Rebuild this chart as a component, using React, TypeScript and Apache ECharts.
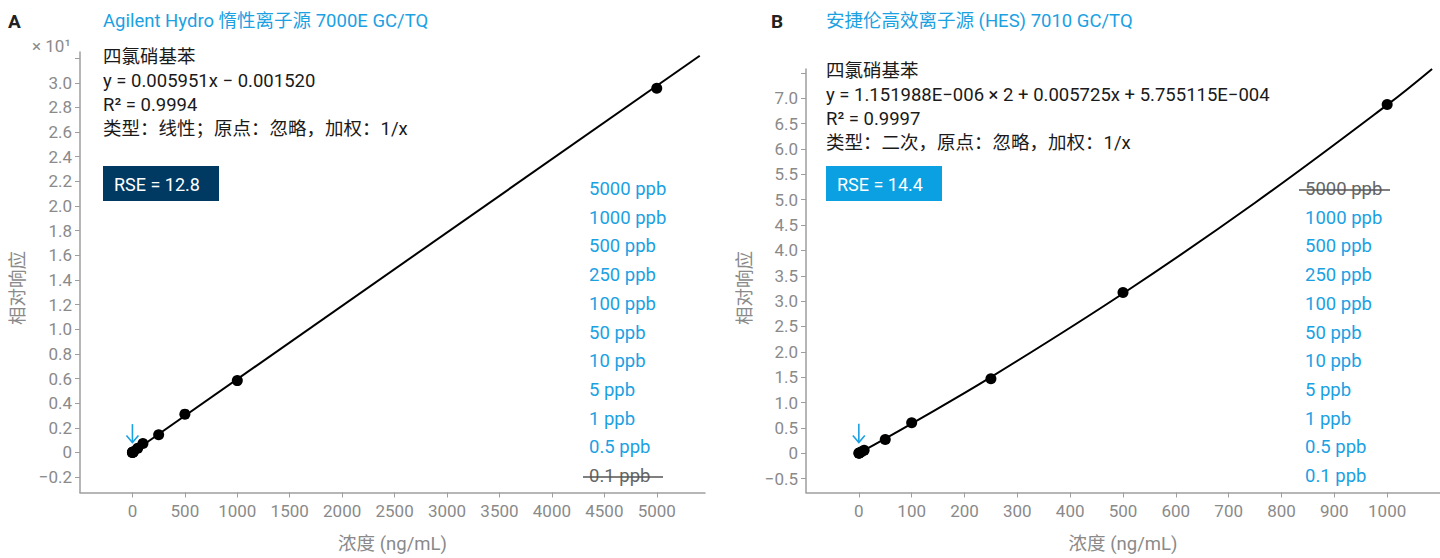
import React, { useEffect, useRef } from "react";
import * as echarts from "echarts";

// ---- Data ----
const concA = [0.1, 0.5, 1, 5, 10, 50, 100, 250, 500, 1000, 5000];
const respA = [0.0, 0.0, 0.001, 0.003, 0.006, 0.035, 0.072, 0.144, 0.311, 0.583, 2.955];
const fitAX = [0, 5410];
const fitAY = [-0.0002, 3.22];

const concB = [0.1, 0.5, 1, 5, 10, 50, 100, 250, 500, 1000];
const respB = [0.0, 0.002, 0.005, 0.03, 0.06, 0.27, 0.6, 1.47, 3.17, 6.88];
const fitBX = [0, 100, 250, 500, 750, 1000, 1085];
const fitBY = [0.0, 0.585, 1.5, 3.15, 4.94, 6.87, 7.58];

const xTicksA = [0, 500, 1000, 1500, 2000, 2500, 3000, 3500, 4000, 4500, 5000];
const yLabelsA = [-0.2, 0, 0.2, 0.4, 0.6, 0.8, 1.0, 1.2, 1.4, 1.6, 1.8, 2.0, 2.2, 2.4, 2.6, 2.8, 3.0];
const yTicksA = [-0.2, 0, 0.2, 0.4, 0.6, 0.8, 1.0, 1.2, 1.4, 1.6, 1.8, 2.0, 2.2, 2.4, 2.6, 2.8, 3.0, 3.2];
const xTicksB = [0, 100, 200, 300, 400, 500, 600, 700, 800, 900, 1000];
const yLabelsB = [-0.5, 0, 0.5, 1.0, 1.5, 2.0, 2.5, 3.0, 3.5, 4.0, 4.5, 5.0, 5.5, 6.0, 6.5, 7.0];
const yTicksB = [-0.5, 0, 0.5, 1.0, 1.5, 2.0, 2.5, 3.0, 3.5, 4.0, 4.5, 5.0, 5.5, 6.0, 6.5, 7.0, 7.5];

const levels = ["5000 ppb", "1000 ppb", "500 ppb", "250 ppb", "100 ppb", "50 ppb", "10 ppb", "5 ppb", "1 ppb", "0.5 ppb", "0.1 ppb"];
const excludedA = "0.1 ppb";
const excludedB = "5000 ppb";

const titleA = "Agilent Hydro 惰性离子源 7000E GC/TQ";
const titleB = "安捷伦高效离子源 (HES) 7010 GC/TQ";
const infoA = ["四氯硝基苯", "y = 0.005951x − 0.001520", "R² = 0.9994", "类型：线性；原点：忽略，加权：1/x"];
const infoB = ["四氯硝基苯", "y = 1.151988E−006 × 2 + 0.005725x + 5.755115E−004", "R² = 0.9997", "类型：二次，原点：忽略，加权：1/x"];
const rseA = "RSE = 12.8";
const rseB = "RSE = 14.4";

const FONT = "Roboto, 'Noto Sans CJK SC', sans-serif";
const BLUE = "#1ba1e2";
const GRAY = "#8a8a8a";
const AXIS = "#9e9e9e";

const fmtY = (v: number) => (v === 0 ? "0" : (v < 0 ? "−" : "") + Math.abs(v).toFixed(1));

function makeAxes(xMin: number, xMax: number, xTicks: number[], yMin: number, yMax: number, yLabels: number[], yTicks: number[], gi: number) {
  const x = {
    type: "value",
    gridIndex: gi,
    min: xMin,
    max: xMax,
    splitLine: { show: false },
    axisLine: { show: true, onZero: false, lineStyle: { color: AXIS, width: 1.5 } },
    axisTick: { show: true, length: 5, lineStyle: { color: AXIS }, customValues: xTicks },
    axisLabel: { color: GRAY, fontSize: 17, fontFamily: FONT, margin: 10, customValues: xTicks, formatter: (v: number) => String(v) },
    name: "浓度 (ng/mL)",
    nameLocation: "middle",
    nameGap: 42,
    nameTextStyle: { color: GRAY, fontSize: 18.5, fontFamily: FONT },
  };
  const y = {
    type: "value",
    gridIndex: gi,
    min: yMin,
    max: yMax,
    splitLine: { show: false },
    axisLine: { show: true, onZero: false, lineStyle: { color: AXIS, width: 1.5 } },
    axisTick: { show: true, length: 5, lineStyle: { color: AXIS }, customValues: yTicks },
    axisLabel: { color: GRAY, fontSize: 17, fontFamily: FONT, margin: 8, customValues: yLabels, formatter: fmtY },
  };
  return { x, y };
}

function textEl(text: string, x: number, y: number, fill: string, fontSize: number, extra: any = {}) {
  return {
    type: "text",
    x,
    y,
    silent: true,
    style: { text, fill, fontSize, fontFamily: FONT, verticalAlign: "middle", align: "left", ...extra },
  };
}

export default function App() {
  const ref = useRef<HTMLDivElement>(null);
  useEffect(() => {
    document.body.style.margin = "0";
    if (!ref.current) return;
    const chart = echarts.init(ref.current, null, { renderer: "svg" });
    const a = makeAxes(-500, 5460, xTicksA, -0.325, 3.25, yLabelsA, yTicksA, 0);
    const b = makeAxes(-100, 1100, xTicksB, -0.775, 7.578, yLabelsB, yTicksB, 1);

    chart.setOption({
      animation: false,
      grid: [
        { left: 80, top: 52, width: 625, height: 448 },
        { left: 806, top: 69, width: 634, height: 431 },
      ],
      xAxis: [a.x, b.x],
      yAxis: [a.y, b.y],
      series: [
        {
          type: "line",
          xAxisIndex: 0,
          yAxisIndex: 0,
          data: fitAX.map((v, i) => [v, fitAY[i]]),
          showSymbol: false,
          lineStyle: { color: "#000", width: 2 },
          silent: true,
        },
        {
          type: "scatter",
          xAxisIndex: 0,
          yAxisIndex: 0,
          data: concA.map((v, i) => [v, respA[i]]),
          symbolSize: 11,
          itemStyle: { color: "#000", opacity: 1 },
        },
        {
          type: "line",
          xAxisIndex: 1,
          yAxisIndex: 1,
          data: fitBX.map((v, i) => [v, fitBY[i]]),
          showSymbol: false,
          smooth: 0.4,
          lineStyle: { color: "#000", width: 2 },
          silent: true,
        },
        {
          type: "scatter",
          xAxisIndex: 1,
          yAxisIndex: 1,
          data: concB.map((v, i) => [v, respB[i]]),
          symbolSize: 11,
          itemStyle: { color: "#000", opacity: 1 },
        },
      ],
    });

    // arrows pointing at the lowest level
    const arrow = (gi: number, yTop: number, yBot: number) => {
      const p1 = chart.convertToPixel({ gridIndex: gi } as any, [0, yTop]) as number[];
      const p2 = chart.convertToPixel({ gridIndex: gi } as any, [0, yBot]) as number[];
      return [
        { type: "line", silent: true, shape: { x1: p1[0], y1: p1[1], x2: p2[0], y2: p2[1] }, style: { stroke: BLUE, lineWidth: 1.6 } },
        {
          type: "polyline",
          silent: true,
          shape: { points: [[p2[0] - 6, p2[1] - 7], [p2[0], p2[1]], [p2[0] + 6, p2[1] - 7]] },
          style: { stroke: BLUE, lineWidth: 1.6, fill: "none" },
        },
      ];
    };

    const legendEls = (x: number, excluded: string, strikeW: number) => {
      const els: any[] = [];
      levels.forEach((t, i) => {
        const y = 189 + i * 28.7;
        if (t === excluded) {
          els.push(textEl(t, x, y, "#666", 18.5));
          els.push({ type: "line", silent: true, shape: { x1: x - 6, y1: y + 1, x2: x - 6 + strikeW, y2: y + 1 }, style: { stroke: "#555", lineWidth: 1.5 } });
        } else {
          els.push(textEl(t, x, y, BLUE, 18.5));
        }
      });
      return els;
    };

    const info = (x: number, y0: number, lines: string[]) => lines.map((t, i) => textEl(t, x, y0 + i * 24, "#1a1a1a", 18.5));

    chart.setOption({
      graphic: [
        textEl("A", 8, 21, "#222", 19, { fontWeight: "bold" }),
        textEl(titleA, 103, 21, BLUE, 18.5),
        textEl("B", 771, 21, "#222", 19, { fontWeight: "bold" }),
        textEl(titleB, 826, 21, BLUE, 18.5),
        textEl("× 10¹", 32, 46, GRAY, 17),
        { type: "text", silent: true, x: 18, y: 288, rotation: Math.PI / 2, style: { text: "相对响应", fill: GRAY, fontSize: 18.5, fontFamily: FONT, align: "center", verticalAlign: "middle" } },
        { type: "text", silent: true, x: 745, y: 288, rotation: Math.PI / 2, style: { text: "相对响应", fill: GRAY, fontSize: 18.5, fontFamily: FONT, align: "center", verticalAlign: "middle" } },
        ...info(103, 57, infoA),
        ...info(826, 71, infoB),
        { type: "rect", silent: true, shape: { x: 103, y: 166, width: 116, height: 35 }, style: { fill: "#003a63" } },
        textEl(rseA, 114, 184, "#fff", 18),
        { type: "rect", silent: true, shape: { x: 826, y: 166, width: 116, height: 35 }, style: { fill: "#0aa0e2" } },
        textEl(rseB, 837, 184, "#fff", 18),
        ...legendEls(589, excludedA, 80),
        ...legendEls(1305, excludedB, 91),
        ...arrow(0, 0.23, 0.08),
        ...arrow(1, 0.58, 0.21),
      ],
    });

    return () => chart.dispose();
  }, []);
  return <div ref={ref} style={{ width: 1440, height: 558 }} />;
}
